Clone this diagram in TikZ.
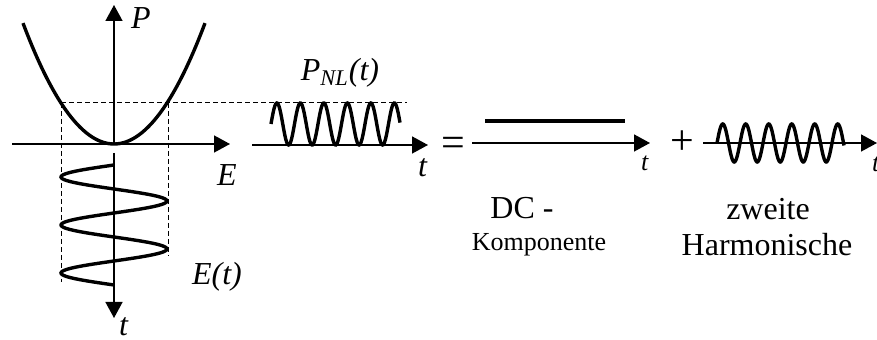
\documentclass[tikz,border=0pt]{standalone}
\usepackage{fontspec}
\setmainfont{Liberation Serif}
\usepackage{tikz}
\usetikzlibrary{arrows.meta}

\begin{document}
\begin{tikzpicture}[x=0.5pt, y=-0.5pt, every node/.style={font=\fontsize{16}{18}\selectfont, inner sep=0pt}, >={Triangle[length=8pt, width=8.5pt]}, axis/.style={->, line width=0.75pt}, curve/.style={line width=1.7pt}, guide/.style={line width=0.5pt, dash pattern=on 2.5pt off 1.5pt}, small/.style={font=\fontsize{13}{15}\selectfont}, sign/.style={font=\fontsize{21}{23}\selectfont}]
	\useasboundingbox (0,0) rectangle (877,340);
	% axes of the characteristic
	\coordinate (O) at (114,144);
	\coordinate (Ptop) at (114,5);
	\coordinate (Eleft) at (12,144);
	\coordinate (Eright) at (230,144);
	\coordinate (Ttop) at (114,153);
	\coordinate (Tbot) at (114,318);
	\draw[axis] (O) -- (Ptop);
	\draw[axis] (Eleft) -- (Eright);
	\draw[axis] (Ttop) -- (Tbot);
	\node (P) at (141,18) {\textit{P}};
	\node (E) at (227,175) {\textit{E}};
	\node (t1) at (124,327) {\textit{t}};
	\node (Et) at (217,277) {\textit{E(t)}};
	% guides
	\draw[guide] (61,103) -- (407,103);
	\draw[guide] (61,103) -- (61,282);
	\draw[guide] (168,103) -- (168,256);
	% parabola and field
	\draw[curve] plot[domain=-91:91, samples=80] ({114+\x},{144-41*(\x/53)^2});
	\draw[curve] plot[domain=165:285, samples=150] ({114-53*sin(7.5*(\x-165))},{\x});
	% nonlinear polarisation
	\coordinate (A1) at (252,145);
	\coordinate (A2) at (428,145);
	\draw[axis] (A1) -- (A2);
	\draw[curve] plot[domain=271:400, samples=200] ({\x},{124-21*sin(15.32*(\x-271))});
	\node (PNL) at (340,73) {\textit{P\textsubscript{NL}(t)}};
	\node (t2) at (423,168) {\textit{t}};
	\node[sign] (eq) at (453,147) {=};
	% DC part
	\coordinate (B1) at (472,143);
	\coordinate (B2) at (650,143);
	\draw[axis] (B1) -- (B2);
	\draw[curve] (485,121) -- (625,121);
	\node[small] (t3) at (645,163) {\textit{t}};
	\node (DC) at (522,208) {DC -};
	\node[small] (Komp) at (539,245) {Komponente};
	\node[sign] (plus) at (682,143) {+};
	% second harmonic
	\coordinate (C1) at (703,143);
	\coordinate (C2) at (877,143);
	\draw[axis] (C1) -- (C2);
	\draw[curve] plot[domain=717:844, samples=200] ({\x},{143-19*sin(15.65*(\x-717))});
	\node[small] (t4) at (876,164) {\textit{t}};
	\node (zw) at (768,209) {zweite};
	\node (Harm) at (767,245) {Harmonische};
\end{tikzpicture}
\end{document}
